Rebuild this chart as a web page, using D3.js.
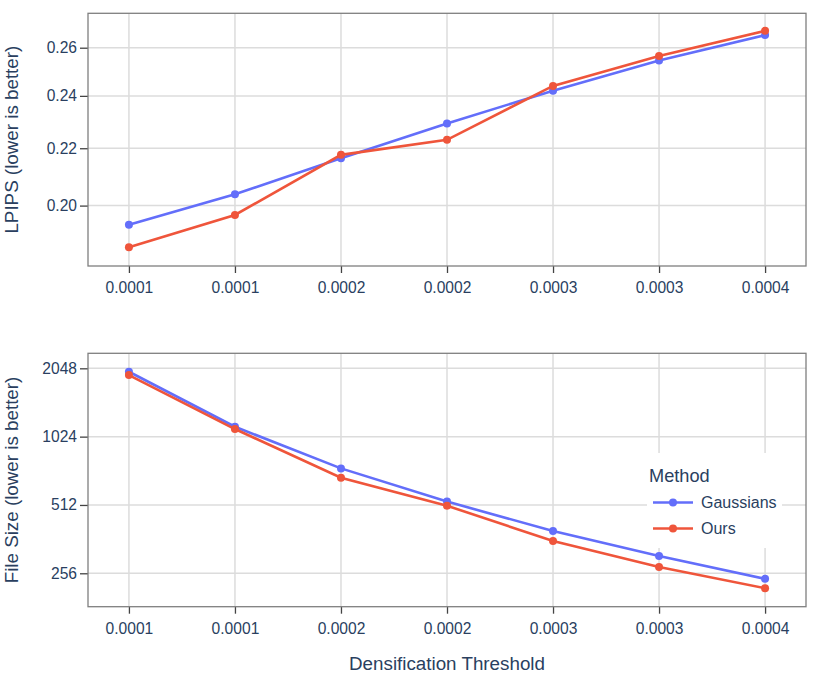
<!DOCTYPE html>
<html>
<head>
<meta charset="utf-8">
<script src="https://cdn.jsdelivr.net/npm/d3@7"></script>
<style>
  body { margin: 0; background: #fff; }
  text { font-family: "Liberation Sans", Arial, sans-serif; fill: #2a3f5f; }
</style>
</head>
<body>
<svg id="chart" width="814" height="678"></svg>
<script>
// densification thresholds (x) and the labels the axis shows
const thresholds = [0.0001, 0.00015, 0.0002, 0.00025, 0.0003, 0.00035, 0.0004];
const xTickLabels = ['0.0001', '0.0001', '0.0002', '0.0002', '0.0003', '0.0003', '0.0004'];

const methods = ['Gaussians', 'Ours'];
const colors = ['#636efa', '#ef553b'];

// LPIPS per method
const lpipsGaussians = [0.1937, 0.2038, 0.2164, 0.2292, 0.2421, 0.2545, 0.2655];
const lpipsOurs = [0.1866, 0.1969, 0.2176, 0.2231, 0.2440, 0.2564, 0.2674];

// file size per method
const sizeGaussians = [1978, 1132, 742, 530, 393, 305, 242];
const sizeOurs = [1913, 1106, 675, 508, 355, 273, 220];

const lpipsTicks = [0.20, 0.22, 0.24, 0.26];
const sizeTicks = [256, 512, 1024, 2048];

const svg = d3.select('#chart');

const left = 88, right = 806;
const pad = 0.0000193;
const xScale = d3.scaleLinear()
    .domain([thresholds[0] - pad, thresholds[thresholds.length - 1] + pad])
    .range([left, right]);

const drawPanel = (top, bottom, yScale, yTicks, yFormat, series, title) => {
    const g = svg.append('g');

    // grid
    g.selectAll('.gx').data(thresholds).join('line')
        .attr('x1', d => xScale(d)).attr('x2', d => xScale(d))
        .attr('y1', top).attr('y2', bottom)
        .attr('stroke', '#dcdcdc').attr('stroke-width', 1.5);
    g.selectAll('.gy').data(yTicks).join('line')
        .attr('x1', left).attr('x2', right)
        .attr('y1', d => yScale(d)).attr('y2', d => yScale(d))
        .attr('stroke', '#dcdcdc').attr('stroke-width', 1.5);

    // x axis
    const xAxis = d3.axisBottom(xScale)
        .tickValues(thresholds)
        .tickSize(7)
        .tickPadding(9)
        .tickFormat((d, i) => xTickLabels[i]);
    const xg = g.append('g').attr('transform', `translate(0,${bottom})`).call(xAxis);
    xg.select('.domain').remove();
    xg.selectAll('line').attr('stroke', '#444').attr('stroke-width', 1.3);
    xg.selectAll('text').attr('font-size', '15.6px').attr('fill', '#2a3f5f')
        .attr('font-family', '"Liberation Sans", Arial, sans-serif');

    // y axis
    const yAxis = d3.axisLeft(yScale)
        .tickValues(yTicks)
        .tickSize(8)
        .tickPadding(3)
        .tickFormat(yFormat);
    const yg = g.append('g').attr('transform', `translate(${left},0)`).call(yAxis);
    yg.select('.domain').remove();
    yg.selectAll('line').attr('stroke', '#444').attr('stroke-width', 1.3);
    yg.selectAll('text').attr('font-size', '15.6px').attr('fill', '#2a3f5f')
        .attr('font-family', '"Liberation Sans", Arial, sans-serif');

    // frame
    g.append('rect')
        .attr('x', left).attr('y', top)
        .attr('width', right - left).attr('height', bottom - top)
        .attr('fill', 'none').attr('stroke', '#7f7f7f').attr('stroke-width', 1.3);

    // lines and markers
    series.forEach((vals, k) => {
        const line = d3.line()
            .x((d, i) => xScale(thresholds[i]))
            .y(d => yScale(d));
        g.append('path')
            .attr('d', line(vals))
            .attr('fill', 'none')
            .attr('stroke', colors[k])
            .attr('stroke-width', 2.6);
        g.selectAll(null).data(vals).join('circle')
            .attr('cx', (d, i) => xScale(thresholds[i]))
            .attr('cy', d => yScale(d))
            .attr('r', 4)
            .attr('fill', colors[k]);
    });

    // y title
    g.append('text')
        .attr('transform', `translate(18,${(top + bottom) / 2}) rotate(-90)`)
        .attr('text-anchor', 'middle')
        .attr('font-size', '18.8px')
        .text(title);
};

const yTop = d3.scaleLog().domain([0.1809, 0.2753]).range([266, 13.3]);
drawPanel(13.3, 266, yTop, lpipsTicks, d3.format('.2f'),
    [lpipsGaussians, lpipsOurs], 'LPIPS (lower is better)');

const yBottom = d3.scaleLog().base(2).domain([182.4, 2385]).range([606.7, 353.3]);
drawPanel(353.3, 606.7, yBottom, sizeTicks, d3.format('d'),
    [sizeGaussians, sizeOurs], 'File Size (lower is better)');

// x title
svg.append('text')
    .attr('x', (left + right) / 2)
    .attr('y', 670)
    .attr('text-anchor', 'middle')
    .attr('font-size', '18.8px')
    .text('Densification Threshold');

// legend
const legend = svg.append('g').attr('transform', 'translate(647,453)');
legend.append('rect').attr('width', 135).attr('height', 95).attr('fill', '#fff');
legend.append('text').attr('x', 2).attr('y', 29).attr('font-size', '18.2px').text('Method');
methods.forEach((m, k) => {
    const y = 49.5 + k * 26;
    legend.append('line').attr('x1', 6).attr('x2', 46).attr('y1', y).attr('y2', y)
        .attr('stroke', colors[k]).attr('stroke-width', 2.6);
    legend.append('circle').attr('cx', 26).attr('cy', y).attr('r', 4).attr('fill', colors[k]);
    legend.append('text').attr('x', 54).attr('y', y).attr('dy', '0.35em')
        .attr('font-size', '16px').text(m);
});
</script>
</body>
</html>
